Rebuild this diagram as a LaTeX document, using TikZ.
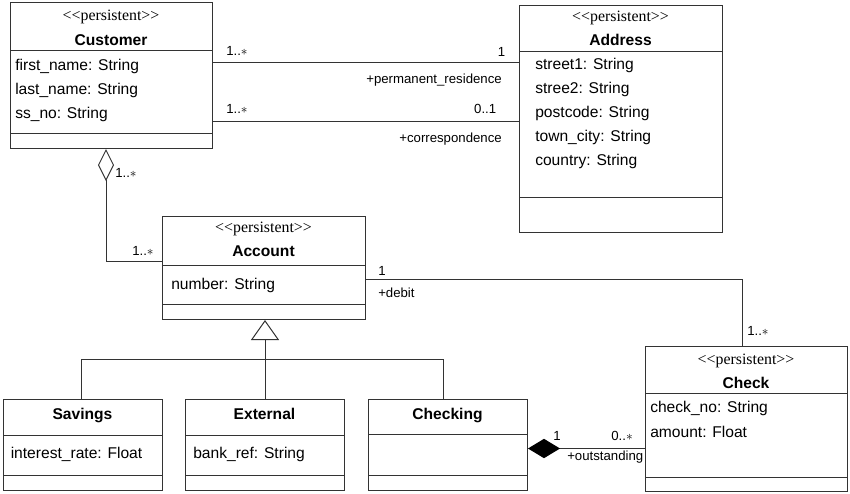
\documentclass[tikz,border=0pt]{standalone}
\usepackage{fontspec}
\setmainfont{Liberation Sans}
\newfontfamily\stereofont{Liberation Serif}
\usetikzlibrary{arrows.meta}
\def\umlbox(#1)(#2,#3)(#4,#5){\node[box, minimum width={(#4-#2)*0.75pt}, minimum height={(#5-#3)*0.75pt}] (#1) at (#2,#3) {};}

\tikzset{
	box/.style={draw=black!80, line width=0.75pt, rectangle, inner sep=0pt, anchor=north west},
	attr/.style={anchor=base west, inner sep=0pt, font=\fontsize{11.7}{14}\selectfont},
	cname/.style={anchor=base, inner sep=0pt, font=\fontsize{11.7}{14}\selectfont\bfseries},
	stereo/.style={anchor=base, inner sep=0pt, font=\fontsize{11.9}{14}\stereofont},
	mult/.style={inner sep=0pt, font=\fontsize{9.9}{12}\selectfont},
	link/.style={draw=black!80, line width=0.75pt},
	aggr/.style={link, -{Diamond[open, length=24pt, width=12pt]}},
	compo/.style={link, -{Diamond[length=24pt, width=14.5pt, color=black]}},
	gener/.style={link, -{Triangle[open, length=15pt, width=21pt]}}
}

\begin{document}
\begin{tikzpicture}[x=0.75pt, y=-0.75pt]
			%%%%% START %%%%%
			\useasboundingbox (0,0) rectangle (850,493);
			
			\umlbox(customer)(10,2)(212,148);
			\draw[link] (10,50) -- (212,50);
			\draw[link] (10,133) -- (212,133);
			\node[stereo] (cust-st) at (111,20) {<<persistent>>};
			\node[cname] (cust-nm) at (111,45) {Customer};
			\node[attr] (cust-a1) at (15,70) {first\_name: String};
			\node[attr] (cust-a2) at (15,94) {last\_name: String};
			\node[attr] (cust-a3) at (15,118) {ss\_no: String};
			
			\umlbox(address)(519,5)(722,232);
			\draw[link] (519,51) -- (722,51);
			\draw[link] (519,197) -- (722,197);
			\node[stereo] (addr-st) at (620.5,21) {<<persistent>>};
			\node[cname] (addr-nm) at (620.5,45) {Address};
			\node[attr] (addr-a1) at (535,69) {street1: String};
			\node[attr] (addr-a2) at (535,93) {stree2: String};
			\node[attr] (addr-a3) at (535,117) {postcode: String};
			\node[attr] (addr-a4) at (535,141) {town\_city: String};
			\node[attr] (addr-a5) at (535,165) {country: String};
			
			\umlbox(account)(162,216)(365,319);
			\draw[link] (162,265) -- (365,265);
			\draw[link] (162,304) -- (365,304);
			\node[stereo] (acc-st) at (263.5,232) {<<persistent>>};
			\node[cname] (acc-nm) at (263.5,256) {Account};
			\node[attr] (acc-a1) at (171,289) {number: String};
			
			\umlbox(check)(645,346)(847,491);
			\draw[link] (645,393) -- (847,393);
			\draw[link] (645,477) -- (847,477);
			\node[stereo] (chk-st) at (746,364) {<<persistent>>};
			\node[cname] (chk-nm) at (746,388) {Check};
			\node[attr] (chk-a1) at (650,412) {check\_no: String};
			\node[attr] (chk-a2) at (650,437) {amount: Float};
			
			\umlbox(savings)(3,399)(162,490);
			\draw[link] (3,435) -- (162,435);
			\draw[link] (3,475) -- (162,475);
			\node[cname] (sav-nm) at (82.5,419) {Savings};
			\node[attr] (sav-a1) at (10.5,458) {interest\_rate: Float};
			
			\umlbox(external)(185,399)(344,490);
			\draw[link] (185,435) -- (344,435);
			\draw[link] (185,475) -- (344,475);
			\node[cname] (ext-nm) at (264.5,419) {External};
			\node[attr] (ext-a1) at (193,458) {bank\_ref: String};
			
			\umlbox(checking)(368,399)(527,490);
			\draw[link] (368,434) -- (527,434);
			\draw[link] (368,475) -- (527,475);
			\node[cname] (chkg-nm) at (447.5,419) {Checking};
			
			% customer -- address
			\coordinate (res) at (0,62);
			\coordinate (cor) at (0,121);
			\draw[link] (customer.east |- res) -- (address.west |- res);
			\draw[link] (customer.east |- cor) -- (address.west |- cor);
			\node[mult, anchor=base west] (res-m1) at (226,55) {1..$\ast$};
			\node[mult, anchor=base east] (res-m2) at (505.5,56) {1};
			\node[mult, anchor=base east] (res-rl) at (502,83) {+permanent\_residence};
			\node[mult, anchor=base west] (cor-m1) at (226,113) {1..$\ast$};
			\node[mult, anchor=base east] (cor-m2) at (496.5,113) {0..1};
			\node[mult, anchor=base east] (cor-rl) at (502,142) {+correspondence};
			
			% customer <>-- account
			\coordinate (agg) at (106,261);
			\draw[aggr] (account.west |- agg) -| (customer.south -| agg);
			\node[mult, anchor=base west] (agg-m1) at (115,177) {1..$\ast$};
			\node[mult, anchor=base west] (agg-m2) at (132,255) {1..$\ast$};
			
			% account -- check
			\coordinate (deb) at (742,279);
			\draw[link] (account.east |- deb) -| (check.north -| deb);
			\node[mult, anchor=base west] (deb-m1) at (378,275) {1};
			\node[mult, anchor=base west] (deb-rl) at (378,297) {+debit};
			\node[mult, anchor=base west] (deb-m2) at (747,335) {1..$\ast$};
			
			% generalisation
			\coordinate (gl) at (81,359);
			\coordinate (gr) at (443,359);
			\draw[link] (savings.north -| gl) -- (gl) -- (gr) -- (checking.north -| gr);
			\draw[gener] (external.north) -- (external.north |- account.south);
			
			% checking <#>-- check
			\coordinate (cmp) at (0,448.5);
			\draw[compo] (check.west |- cmp) -- (checking.east |- cmp);
			\node[mult, anchor=base] (cmp-m1) at (557,440) {1};
			\node[mult, anchor=base east] (cmp-m2) at (633,440) {0..$\ast$};
			\node[mult, anchor=base east] (cmp-rl) at (643.5,460) {+outstanding};
			
			%%%%% END %%%%%
\end{tikzpicture}
\end{document}
